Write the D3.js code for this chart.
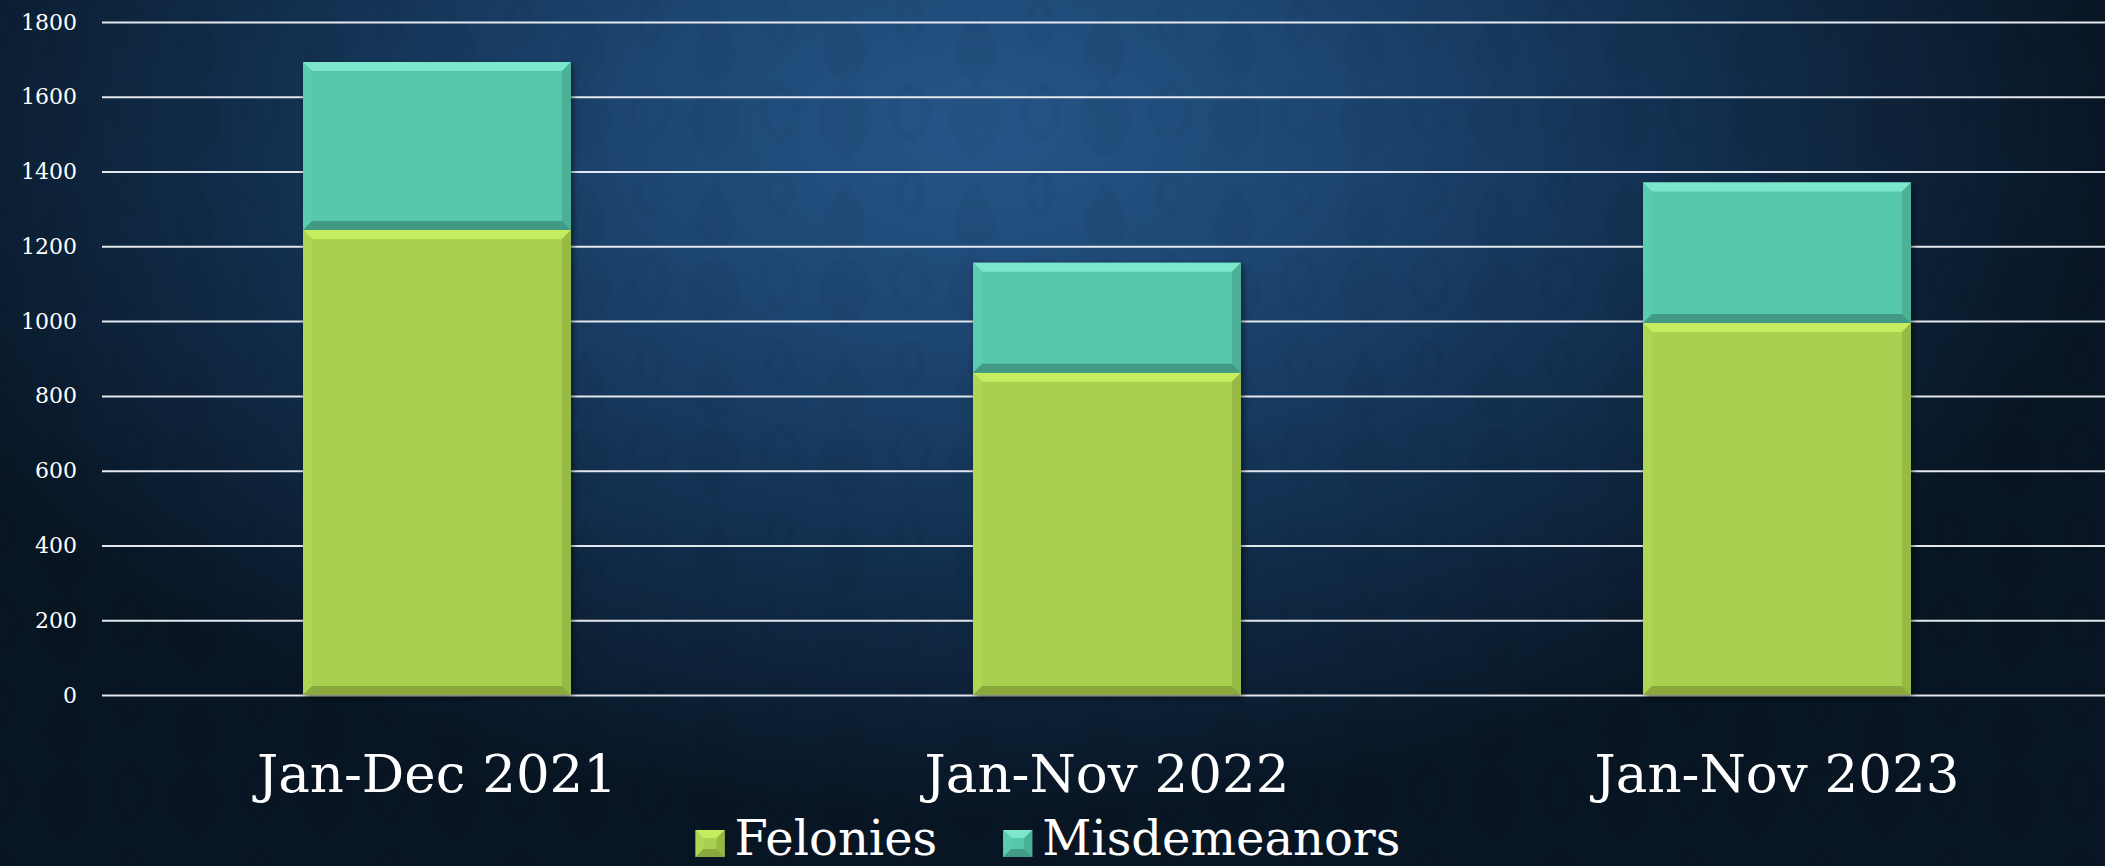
<!DOCTYPE html>
<html>
<head>
<meta charset="utf-8">
<script src="https://cdn.jsdelivr.net/npm/d3@7"></script>
<style>
  html, body { margin: 0; padding: 0; background: #0a1828; }
  svg { display: block; }
  text { font-family: "DejaVu Serif", serif; fill: #ffffff; }
</style>
</head>
<body>
<script>
const width = 2105;
const height = 866;

// data
const categories = ["Jan-Dec 2021", "Jan-Nov 2022", "Jan-Nov 2023"];
const felonies = [1244, 862, 995];
const misdemeanors = [449, 294, 376];
const seriesNames = ["Felonies", "Misdemeanors"];
const yTicks = [0, 200, 400, 600, 800, 1000, 1200, 1400, 1600, 1800];

const colors = {
    Felonies: { main: "#a9d14f", top: "#c6ed5e", left: "#aed653", right: "#97b944", bottom: "#8aa83e" },
    Misdemeanors: { main: "#56c9ab", top: "#7de7cc", left: "#5acdb0", right: "#4bb096", bottom: "#429a84" }
};

// build stacked rows from the arrays
const rows = categories.map((c, i) => ({ cat: c, Felonies: felonies[i], Misdemeanors: misdemeanors[i] }));
const stacked = d3.stack().keys(seriesNames)(rows);

const svg = d3.select("body").append("svg")
    .attr("width", width)
    .attr("height", height);

const defs = svg.append("defs");

// background
const bg = defs.append("radialGradient")
    .attr("id", "bg")
    .attr("gradientUnits", "userSpaceOnUse")
    .attr("cx", 980).attr("cy", 130).attr("r", 1150)
    .attr("gradientTransform", "translate(0,52) scale(1,0.6)");
bg.append("stop").attr("offset", 0).attr("stop-color", "#255688");
bg.append("stop").attr("offset", 0.3).attr("stop-color", "#1d4672");
bg.append("stop").attr("offset", 0.65).attr("stop-color", "#112d4b");
bg.append("stop").attr("offset", 1).attr("stop-color", "#081523");

// faint damask-ish tile
const pat = defs.append("pattern")
    .attr("id", "damask")
    .attr("patternUnits", "userSpaceOnUse")
    .attr("width", 130).attr("height", 170);
pat.append("path")
    .attr("d", "M65,10 C85,40 100,60 65,85 C30,60 45,40 65,10 Z M65,85 C95,100 105,130 65,160 C25,130 35,100 65,85 Z")
    .attr("fill", "#000").attr("opacity", 0.035);
pat.append("path")
    .attr("d", "M0,85 C20,100 25,120 0,140 M130,85 C110,100 105,120 130,140 M0,0 C15,15 15,30 0,45 M130,0 C115,15 115,30 130,45")
    .attr("fill", "none").attr("stroke", "#000").attr("stroke-width", 8).attr("opacity", 0.03);

const shadow = defs.append("filter").attr("id", "shadow")
    .attr("x", "-10%").attr("y", "-10%").attr("width", "120%").attr("height", "120%");
shadow.append("feDropShadow")
    .attr("dx", 2).attr("dy", 3).attr("stdDeviation", 3)
    .attr("flood-color", "#000").attr("flood-opacity", 0.55);

svg.append("rect").attr("width", width).attr("height", height).attr("fill", "url(#bg)");
svg.append("rect").attr("width", width).attr("height", height).attr("fill", "url(#damask)");

// scales
const x = d3.scaleBand()
    .domain(categories)
    .range([102, 2112])
    .paddingInner(0.6)
    .paddingOuter(0.3);

const y = d3.scaleLinear()
    .domain([0, 1800])
    .range([695, 22]);

// gridlines + y labels
const yAxis = svg.append("g")
    .attr("transform", "translate(102,0)")
    .call(d3.axisLeft(y).tickValues(yTicks).tickSize(-(width - 102)).tickPadding(25).tickFormat(d3.format("d")));
yAxis.select(".domain").remove();
yAxis.selectAll(".tick line").attr("stroke", "#e4e8ee").attr("stroke-width", 2);
yAxis.selectAll(".tick text")
    .attr("fill", "#fff")
    .style("font-family", "'DejaVu Serif', serif")
    .style("font-size", "22px");

// bevelled rectangle
function bevel(g, bx, by, bw, bh, c, size) {
    const b = Math.min(size, bh / 2, bw / 2);
    g.append("rect").attr("x", bx).attr("y", by).attr("width", bw).attr("height", bh).attr("fill", c.main);
    const poly = (pts, fill) => g.append("polygon").attr("points", pts.map(p => p.join(",")).join(" ")).attr("fill", fill);
    poly([[bx, by], [bx + bw, by], [bx + bw - b, by + b], [bx + b, by + b]], c.top);
    poly([[bx, by], [bx + b, by + b], [bx + b, by + bh - b], [bx, by + bh]], c.left);
    poly([[bx + bw, by], [bx + bw, by + bh], [bx + bw - b, by + bh - b], [bx + bw - b, by + b]], c.right);
    poly([[bx, by + bh], [bx + b, by + bh - b], [bx + bw - b, by + bh - b], [bx + bw, by + bh]], c.bottom);
}

const bars = svg.append("g").attr("filter", "url(#shadow)");
stacked.forEach(series => {
    const c = colors[series.key];
    series.forEach(d => {
        const g = bars.append("g");
        bevel(g, x(d.data.cat), y(d[1]), x.bandwidth(), y(d[0]) - y(d[1]), c, 9);
    });
});

// category labels
svg.append("g")
    .selectAll("text")
    .data(categories)
    .enter().append("text")
    .attr("x", d => x(d) + x.bandwidth() / 2)
    .attr("y", 792)
    .attr("text-anchor", "middle")
    .style("font-size", "53px")
    .text(d => d);

// legend
const legend = svg.append("g");
let lx = 0;
seriesNames.forEach((name, i) => {
    const item = legend.append("g").attr("transform", `translate(${lx},0)`);
    bevel(item, 0, 830, 29, 27, colors[name], 8);
    const t = item.append("text")
        .attr("x", 39)
        .attr("y", 855)
        .style("font-size", "48px")
        .text(name);
    lx += 39 + t.node().getComputedTextLength() + 66;
});
const lw = lx - 66;
legend.attr("transform", `translate(${1048 - lw / 2},0)`);
</script>
</body>
</html>
